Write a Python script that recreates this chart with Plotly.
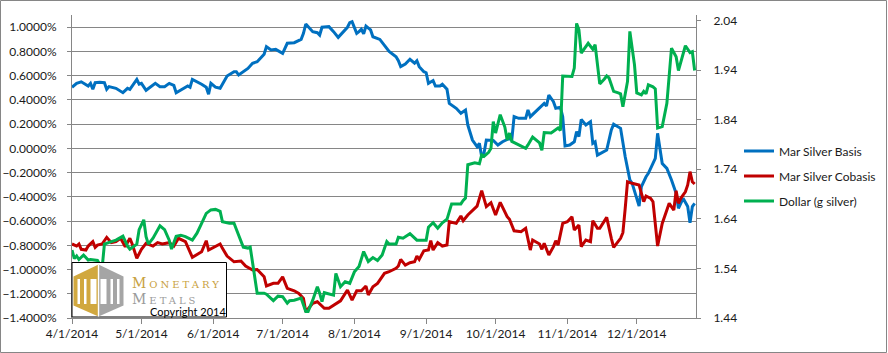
import plotly.graph_objects as go

# ---------------- data ----------------
basis_dates = [
    "2014-04-01", "2014-04-03", "2014-04-05", "2014-04-07", "2014-04-08", "2014-04-09", "2014-04-10",
    "2014-04-11", "2014-04-13", "2014-04-15", "2014-04-16", "2014-04-17", "2014-04-20", "2014-04-23",
    "2014-04-25", "2014-04-26", "2014-04-29", "2014-04-30", "2014-05-01", "2014-05-03", "2014-05-07",
    "2014-05-09", "2014-05-11", "2014-05-13", "2014-05-15", "2014-05-16", "2014-05-21", "2014-05-22",
    "2014-05-23", "2014-05-27", "2014-05-29", "2014-05-30", "2014-05-31", "2014-06-02", "2014-06-04",
    "2014-06-07", "2014-06-10", "2014-06-11", "2014-06-12", "2014-06-16", "2014-06-18", "2014-06-20",
    "2014-06-23", "2014-06-24", "2014-06-26", "2014-06-28", "2014-07-01", "2014-07-03", "2014-07-06",
    "2014-07-09", "2014-07-10", "2014-07-11", "2014-07-14", "2014-07-16", "2014-07-17", "2014-07-18",
    "2014-07-21", "2014-07-23", "2014-07-25", "2014-07-29", "2014-07-30", "2014-07-31", "2014-08-02",
    "2014-08-03", "2014-08-04", "2014-08-05", "2014-08-06", "2014-08-08", "2014-08-09", "2014-08-12",
    "2014-08-13", "2014-08-15", "2014-08-16", "2014-08-19", "2014-08-20", "2014-08-21", "2014-08-23",
    "2014-08-25", "2014-08-27", "2014-08-28", "2014-08-29", "2014-08-31", "2014-09-01", "2014-09-02",
    "2014-09-04", "2014-09-05", "2014-09-07", "2014-09-08", "2014-09-10", "2014-09-11", "2014-09-14",
    "2014-09-16", "2014-09-18", "2014-09-19", "2014-09-21", "2014-09-23", "2014-09-24", "2014-09-25",
    "2014-09-26", "2014-09-27", "2014-09-29", "2014-09-30", "2014-10-02", "2014-10-04", "2014-10-07",
    "2014-10-08", "2014-10-09", "2014-10-11", "2014-10-14", "2014-10-15", "2014-10-16", "2014-10-19",
    "2014-10-22", "2014-10-23", "2014-10-24", "2014-10-26", "2014-10-27", "2014-10-29", "2014-10-30",
    "2014-10-31", "2014-11-02", "2014-11-04", "2014-11-05", "2014-11-06", "2014-11-07", "2014-11-09",
    "2014-11-11", "2014-11-12", "2014-11-13", "2014-11-14", "2014-11-18", "2014-11-20", "2014-11-21",
    "2014-11-24", "2014-11-26", "2014-11-28", "2014-11-29", "2014-12-02", "2014-12-03", "2014-12-05",
    "2014-12-06", "2014-12-09", "2014-12-10", "2014-12-12", "2014-12-14", "2014-12-16", "2014-12-18",
    "2014-12-19", "2014-12-21", "2014-12-23", "2014-12-24", "2014-12-25", "2014-12-26",
]
basis_values = [
    0.505, 0.537, 0.55, 0.53, 0.515, 0.537, 0.488,
    0.542, 0.546, 0.542, 0.488, 0.51, 0.496, 0.46,
    0.496, 0.488, 0.57, 0.53, 0.537, 0.48, 0.537,
    0.51, 0.51, 0.537, 0.52, 0.46, 0.515, 0.505,
    0.57, 0.53, 0.505, 0.447, 0.537, 0.505, 0.496,
    0.598, 0.633, 0.633, 0.606, 0.66, 0.703, 0.716,
    0.777, 0.84, 0.813, 0.818, 0.785, 0.868, 0.873,
    0.9, 0.95, 1.027, 0.964, 0.955, 0.936, 1.0,
    1.005, 0.964, 0.917, 1.0, 1.038, 1.046, 0.95,
    0.964, 0.983, 0.945, 1.01, 0.978, 0.922, 0.9,
    0.873, 0.827, 0.8, 0.757, 0.724, 0.675, 0.697,
    0.736, 0.703, 0.724, 0.675, 0.633, 0.625, 0.537,
    0.56, 0.515, 0.515, 0.53, 0.488, 0.372, 0.331,
    0.29, 0.317, 0.193, 0.069, 0.014, 0.042, -0.069,
    -0.04, 0.069, 0.069, 0.065, 0.028, 0.055, 0.083,
    0.07, 0.262, 0.248, 0.248, 0.317, 0.262, 0.317,
    0.372, 0.35, 0.441, 0.386, 0.331, 0.34, 0.262,
    0.02, 0.028, 0.055, 0.138, 0.097, 0.24, 0.193,
    0.22, 0.042, 0.055, -0.055, -0.013, 0.152, 0.2,
    0.166, -0.069, -0.26, -0.288, -0.476, -0.316, -0.234,
    -0.206, -0.082, 0.125, -0.124, -0.165, -0.26, -0.371,
    -0.495, -0.412, -0.48, -0.614, -0.48, -0.453,
]

cobasis_dates = [
    "2014-04-01", "2014-04-03", "2014-04-04", "2014-04-05", "2014-04-07", "2014-04-08", "2014-04-10",
    "2014-04-11", "2014-04-12", "2014-04-14", "2014-04-16", "2014-04-18", "2014-04-20", "2014-04-22",
    "2014-04-24", "2014-04-26", "2014-04-27", "2014-04-29", "2014-05-01", "2014-05-03", "2014-05-06",
    "2014-05-08", "2014-05-10", "2014-05-13", "2014-05-15", "2014-05-17", "2014-05-20", "2014-05-23",
    "2014-05-27", "2014-05-29", "2014-05-30", "2014-06-02", "2014-06-04", "2014-06-05", "2014-06-07",
    "2014-06-10", "2014-06-13", "2014-06-15", "2014-06-18", "2014-06-20", "2014-06-23", "2014-06-24",
    "2014-06-27", "2014-06-29", "2014-07-01", "2014-07-03", "2014-07-06", "2014-07-08", "2014-07-10",
    "2014-07-11", "2014-07-14", "2014-07-16", "2014-07-19", "2014-07-21", "2014-07-24", "2014-07-26",
    "2014-07-29", "2014-07-31", "2014-08-02", "2014-08-04", "2014-08-06", "2014-08-07", "2014-08-09",
    "2014-08-11", "2014-08-14", "2014-08-16", "2014-08-19", "2014-08-20", "2014-08-21", "2014-08-23",
    "2014-08-25", "2014-08-27", "2014-08-28", "2014-08-29", "2014-08-31", "2014-09-02", "2014-09-03",
    "2014-09-04", "2014-09-06", "2014-09-08", "2014-09-10", "2014-09-11", "2014-09-14", "2014-09-16",
    "2014-09-17", "2014-09-19", "2014-09-23", "2014-09-25", "2014-09-27", "2014-09-29", "2014-10-01",
    "2014-10-03", "2014-10-06", "2014-10-07", "2014-10-09", "2014-10-12", "2014-10-14", "2014-10-16",
    "2014-10-17", "2014-10-20", "2014-10-21", "2014-10-22", "2014-10-24", "2014-10-26", "2014-10-27",
    "2014-10-28", "2014-10-30", "2014-11-01", "2014-11-03", "2014-11-04", "2014-11-06", "2014-11-07",
    "2014-11-09", "2014-11-11", "2014-11-12", "2014-11-14", "2014-11-15", "2014-11-18", "2014-11-20",
    "2014-11-21", "2014-11-24", "2014-11-25", "2014-11-26", "2014-11-27", "2014-11-29", "2014-12-02",
    "2014-12-04", "2014-12-05", "2014-12-07", "2014-12-08", "2014-12-10", "2014-12-12", "2014-12-14",
    "2014-12-15", "2014-12-17", "2014-12-18", "2014-12-19", "2014-12-20", "2014-12-22", "2014-12-23",
    "2014-12-24", "2014-12-25", "2014-12-26",
]
cobasis_values = [
    -0.789, -0.806, -0.789, -0.833, -0.839, -0.806, -0.77,
    -0.817, -0.798, -0.789, -0.734, -0.778, -0.77, -0.742,
    -0.811, -0.742, -0.789, -0.907, -0.833, -0.784, -0.806,
    -0.778, -0.789, -0.778, -0.806, -0.742, -0.77, -0.899,
    -0.853, -0.762, -0.839, -0.806, -0.789, -0.825, -0.889,
    -0.936, -0.93, -0.971, -1.004, -1.0, -1.059, -1.136,
    -1.114, -1.114, -1.06, -1.155, -1.175, -1.197, -1.238,
    -1.348, -1.279, -1.266, -1.32, -1.32, -1.279, -1.258,
    -1.169, -1.252, -1.175, -1.175, -1.136, -1.21, -1.142,
    -1.114, -1.031, -1.018, -0.99, -0.971, -0.916, -0.963,
    -0.944, -0.936, -0.889, -0.916, -0.845, -0.839, -0.762,
    -0.839, -0.778, -0.806, -0.798, -0.605, -0.619, -0.558,
    -0.597, -0.55, -0.476, -0.349, -0.481, -0.448, -0.55,
    -0.445, -0.564, -0.585, -0.68, -0.688, -0.66, -0.839,
    -0.756, -0.789, -0.833, -0.784, -0.88, -0.811, -0.762,
    -0.798, -0.619, -0.605, -0.564, -0.674, -0.633, -0.811,
    -0.756, -0.77, -0.597, -0.66, -0.66, -0.569, -0.742,
    -0.817, -0.742, -0.696, -0.495, -0.275, -0.288, -0.302,
    -0.44, -0.393, -0.412, -0.44, -0.806, -0.619, -0.509,
    -0.453, -0.509, -0.349, -0.453, -0.412, -0.358, -0.302,
    -0.192, -0.275, -0.294,
]

dollar_dates = [
    "2014-04-01", "2014-04-02", "2014-04-03", "2014-04-04", "2014-04-06", "2014-04-08", "2014-04-09",
    "2014-04-12", "2014-04-14", "2014-04-15", "2014-04-18", "2014-04-20", "2014-04-23", "2014-04-25",
    "2014-04-26", "2014-04-29", "2014-04-30", "2014-05-02", "2014-05-03", "2014-05-04", "2014-05-06",
    "2014-05-09", "2014-05-11", "2014-05-13", "2014-05-14", "2014-05-16", "2014-05-18", "2014-05-20",
    "2014-05-23", "2014-05-25", "2014-05-27", "2014-05-29", "2014-05-31", "2014-06-02", "2014-06-04",
    "2014-06-05", "2014-06-08", "2014-06-10", "2014-06-11", "2014-06-14", "2014-06-16", "2014-06-17",
    "2014-06-20", "2014-06-23", "2014-06-24", "2014-06-27", "2014-06-29", "2014-07-01", "2014-07-03",
    "2014-07-04", "2014-07-06", "2014-07-09", "2014-07-11", "2014-07-12", "2014-07-14", "2014-07-16",
    "2014-07-17", "2014-07-18", "2014-07-19", "2014-07-23", "2014-07-24", "2014-07-26", "2014-07-28",
    "2014-07-30", "2014-08-01", "2014-08-03", "2014-08-05", "2014-08-07", "2014-08-09", "2014-08-11",
    "2014-08-13", "2014-08-15", "2014-08-16", "2014-08-19", "2014-08-20", "2014-08-22", "2014-08-25",
    "2014-08-28", "2014-09-01", "2014-09-02", "2014-09-04", "2014-09-06", "2014-09-08", "2014-09-10",
    "2014-09-12", "2014-09-16", "2014-09-17", "2014-09-18", "2014-09-19", "2014-09-22", "2014-09-24",
    "2014-09-25", "2014-09-26", "2014-09-28", "2014-09-29", "2014-09-30", "2014-10-01", "2014-10-03",
    "2014-10-05", "2014-10-06", "2014-10-07", "2014-10-08", "2014-10-11", "2014-10-14", "2014-10-15",
    "2014-10-17", "2014-10-20", "2014-10-21", "2014-10-22", "2014-10-25", "2014-10-28", "2014-10-29",
    "2014-10-30", "2014-11-03", "2014-11-04", "2014-11-05", "2014-11-06", "2014-11-07", "2014-11-10",
    "2014-11-12", "2014-11-13", "2014-11-15", "2014-11-17", "2014-11-18", "2014-11-19", "2014-11-21",
    "2014-11-23", "2014-11-24", "2014-11-25", "2014-11-27", "2014-11-28", "2014-11-30", "2014-12-01",
    "2014-12-03", "2014-12-04", "2014-12-05", "2014-12-06", "2014-12-08", "2014-12-09", "2014-12-10",
    "2014-12-12", "2014-12-14", "2014-12-16", "2014-12-18", "2014-12-19", "2014-12-22", "2014-12-24",
    "2014-12-25", "2014-12-26",
]
dollar_values = [
    1.577, 1.56, 1.565, 1.558, 1.567, 1.557, 1.558,
    1.556, 1.54, 1.589, 1.594, 1.597, 1.605, 1.585,
    1.579, 1.589, 1.618, 1.638, 1.604, 1.589, 1.601,
    1.626, 1.618, 1.597, 1.579, 1.605, 1.607, 1.604,
    1.597, 1.611, 1.631, 1.651, 1.658, 1.659, 1.655,
    1.634, 1.631, 1.631, 1.619, 1.583, 1.581, 1.583,
    1.49, 1.49, 1.488, 1.475, 1.484, 1.483, 1.47,
    1.475, 1.476, 1.48, 1.453, 1.453, 1.476, 1.503,
    1.49, 1.473, 1.491, 1.486, 1.53, 1.503, 1.513,
    1.51, 1.533, 1.544, 1.574, 1.554, 1.562, 1.556,
    1.567, 1.594, 1.589, 1.589, 1.603, 1.601, 1.61,
    1.597, 1.597, 1.623, 1.632, 1.621, 1.632, 1.639,
    1.67, 1.67, 1.677, 1.682, 1.749, 1.753, 1.751,
    1.769, 1.766, 1.774, 1.782, 1.836, 1.813, 1.85,
    1.825, 1.799, 1.813, 1.796, 1.789, 1.782, 1.789,
    1.805, 1.793, 1.778, 1.814, 1.813, 1.823, 1.818,
    1.928, 1.927, 1.944, 2.034, 2.021, 1.974, 1.994,
    1.982, 1.991, 1.912, 1.922, 1.928, 1.924, 1.897,
    1.894, 1.892, 1.866, 1.917, 2.018, 1.951, 1.894,
    1.89, 1.897, 1.892, 1.91, 1.906, 1.902, 1.823,
    1.826, 1.873, 1.984, 1.967, 1.939, 1.989, 1.975,
    1.977, 1.939,
]

series_names = ["Mar Silver Basis", "Mar Silver Cobasis", "Dollar (g silver)"]
series_colors = ["#0070C0", "#C00000", "#00B050"]

# ---------------- geometry helpers (pixel -> paper) ----------------
W, H = 888, 353
L, R, T, B = 72, 696, 15, 318
def px(x):
    return (x - L) / (R - L)
def py(y):
    return (B - y) / (B - T)

FONT = "Lato, 'Liberation Sans', Arial, sans-serif"
TXT = "#1a1a1a"
GRID = "#868686"

fig = go.Figure()
fig.add_trace(go.Scatter(x=basis_dates, y=basis_values, name=series_names[0], mode="lines",
                         line=dict(color=series_colors[0], width=3), legendgroup="a"))
fig.add_trace(go.Scatter(x=cobasis_dates, y=cobasis_values, name=series_names[1], mode="lines",
                         line=dict(color=series_colors[1], width=3), legendgroup="b"))
fig.add_trace(go.Scatter(x=dollar_dates, y=dollar_values, name=series_names[2], mode="lines",
                         line=dict(color=series_colors[2], width=3), yaxis="y2", legendgroup="c"))

shapes = []
# outer chart border
shapes.append(dict(type="rect", xref="paper", yref="paper",
                   x0=px(0.5), x1=px(886.5), y0=py(352.5), y1=py(0.5),
                   line=dict(color=GRID, width=1), fillcolor="rgba(0,0,0,0)", layer="below"))
# logo box
shapes.append(dict(type="rect", xref="paper", yref="paper",
                   x0=px(72), x1=px(226.5), y0=py(317), y1=py(262.5),
                   line=dict(color="#000000", width=1), fillcolor="white", layer="above"))
GOLD = "#D1A83F"
GREY = "#A5A5A5"
cx, tl, tr, vtop, vbot, bt = 98.5, 73.5, 123.5, 276.5, 305.5, 264.5
bb = 316.5
def path(pts):
    return "M " + " L ".join(f"{px(a)},{py(b)}" for a, b in pts) + " Z"
shapes.append(dict(type="path", xref="paper", yref="paper",
                   path=path([(cx, bt), (tl, vtop), (tl, vbot), (cx, bb)]),
                   fillcolor=GOLD, line=dict(width=0), layer="above"))
shapes.append(dict(type="path", xref="paper", yref="paper",
                   path=path([(cx, bt), (tr, vtop), (tr, vbot), (cx, bb)]),
                   fillcolor=GREY, line=dict(width=0), layer="above"))
# white slots forming the "MM" mark
for (a, b) in [(77.5, 80), (84, 86.5), (90.5, 96.5), (100.5, 106.5), (110.5, 113), (117, 119.5)]:
    shapes.append(dict(type="rect", xref="paper", yref="paper",
                       x0=px(a), x1=px(b), y0=py(304), y1=py(279),
                       fillcolor="white", line=dict(width=0), layer="above"))
shapes.append(dict(type="rect", xref="paper", yref="paper",
                   x0=px(97.8), x1=px(99.2), y0=py(bb), y1=py(bt),
                   fillcolor="white", line=dict(width=0), layer="above"))

SERIF = "'DejaVu Serif', 'Liberation Serif', serif"
annotations = [
    dict(x=px(130), y=py(283), xref="paper", yref="paper", xanchor="left", yanchor="middle",
         text="<span style='letter-spacing:3px'>Monetary</span>", showarrow=False,
         font=dict(family=SERIF, size=14, color="#C9A23F", variant="small-caps")),
    dict(x=px(130), y=py(298.5), xref="paper", yref="paper", xanchor="left", yanchor="middle",
         text="<span style='letter-spacing:3px'>Metals</span>", showarrow=False,
         font=dict(family=SERIF, size=14, color="#9B9B9B", variant="small-caps")),
    dict(x=px(148), y=py(311), xref="paper", yref="paper", xanchor="left", yanchor="middle",
         text="Copyright 2014", showarrow=False,
         font=dict(family=FONT, size=11, color="#000000")),
]

fig.update_layout(
    width=W, height=H,
    margin=dict(l=L, r=W - R, t=T, b=H - B, pad=0, autoexpand=False),
    paper_bgcolor="white", plot_bgcolor="white",
    font=dict(family=FONT, size=12, color=TXT),
    showlegend=True,
    legend=dict(x=px(739), y=py(176), xanchor="left", yanchor="middle",
                bgcolor="rgba(0,0,0,0)", font=dict(family=FONT, size=12, color=TXT),
                traceorder="grouped", tracegroupgap=6, itemwidth=30),
    xaxis=dict(type="date", range=["2014-04-01", "2014-12-26 14:00"],
               tick0="2014-04-01", dtick="M1", tickformat="%-m/%-d/%Y", automargin=False,
               showgrid=False, zeroline=False, showline=True, linecolor=GRID, linewidth=1,
               ticks="outside", ticklen=5, tickcolor=GRID, tickfont=dict(size=12, color=TXT)),
    yaxis=dict(range=[-1.4, 1.1014], tick0=-1.4, dtick=0.2, tickformat=".4f", ticksuffix="%",
               showgrid=True, gridcolor=GRID, gridwidth=1, zeroline=False, automargin=False,
               showline=True, linecolor=GRID, linewidth=1, ticklabelstandoff=8,
               ticks="outside", ticklen=4, tickcolor=GRID, tickfont=dict(size=12, color=TXT)),
    yaxis2=dict(range=[1.44, 2.051], tick0=1.44, dtick=0.1, tickformat=".2f", automargin=False,
                overlaying="y", side="right", showgrid=False, zeroline=False,
                showline=True, linecolor=GRID, linewidth=1, ticklabelstandoff=10,
                ticks="outside", ticklen=4, tickcolor=GRID, tickfont=dict(size=12, color=TXT)),
    shapes=shapes,
    annotations=annotations,
)

fig.write_html("out.html")
